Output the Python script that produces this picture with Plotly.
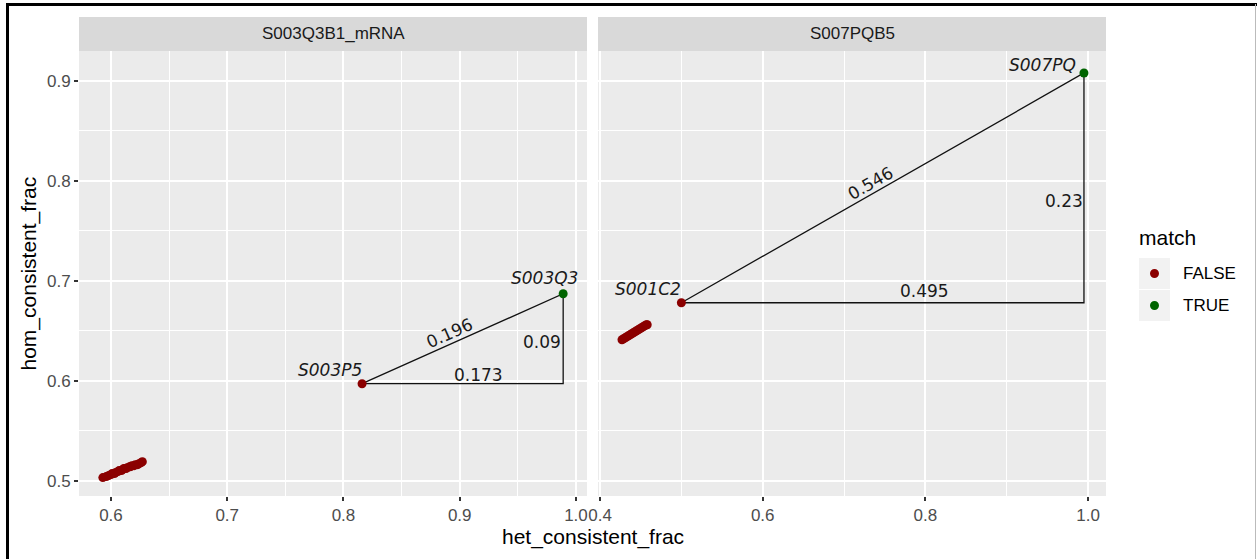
import math
import plotly.graph_objects as go

# ---------------- data ----------------
panels = ["S003Q3B1_mRNA", "S007PQB5"]

# background (non-matching) samples per panel
left_false_x = [0.593, 0.596, 0.598, 0.600, 0.601, 0.603, 0.604, 0.606, 0.607, 0.609, 0.610, 0.611,
                0.613, 0.614, 0.616, 0.617, 0.618, 0.620, 0.621, 0.623, 0.624, 0.626, 0.627]
left_false_y = [0.503, 0.504, 0.505, 0.506, 0.507, 0.507, 0.508, 0.509, 0.510, 0.510, 0.511, 0.512,
                0.512, 0.513, 0.514, 0.514, 0.515, 0.515, 0.516, 0.516, 0.517, 0.518, 0.519]
right_false_x = [0.427, 0.429, 0.431, 0.433, 0.435, 0.437, 0.439, 0.441, 0.443, 0.445, 0.447, 0.449,
                 0.451, 0.453, 0.455, 0.457, 0.458]
right_false_y = [0.641, 0.642, 0.643, 0.644, 0.645, 0.646, 0.647, 0.648, 0.649, 0.650, 0.651, 0.652,
                 0.653, 0.654, 0.655, 0.656, 0.656]

# closest non-match (FALSE) and match (TRUE) per panel
near_name = ["S003P5", "S001C2"]
near_x = [0.816, 0.500]
near_y = [0.597, 0.678]
match_name = ["S003Q3", "S007PQ"]
match_x = [0.989, 0.995]
match_y = [0.687, 0.908]

hyp_labels = ["0.196", "0.546"]
dx_labels = ["0.173", "0.495"]
dy_labels = ["0.09", "0.23"]

left_xticks = [0.6, 0.7, 0.8, 0.9, 1.0]
right_xticks = [0.4, 0.6, 0.8, 1.0]
yticks = [0.5, 0.6, 0.7, 0.8, 0.9]

# ---------------- style / layout ----------------
W, H = 1257, 559
RED = "#8B0000"
GREEN = "#006400"
PANEL_BG = "#EBEBEB"
STRIP_BG = "#D9D9D9"
TICK_FONT = dict(family="Liberation Sans, Arial, sans-serif", size=17, color="#4D4D4D")
TITLE_FONT = dict(family="Liberation Sans, Arial, sans-serif", size=21, color="#000000")
LABEL_FONT = dict(family="DejaVu Sans, sans-serif", size=17, color="#1A1A1A")

def px(x):
    return x / W

def py(y):
    return 1 - y / H

dom_x1 = (79, 587)
dom_x2 = (598, 1106)
dom_y = (51, 496)
xr1 = [0.5725, 1.0095]
xr2 = [0.3975, 1.0221]
yr = [0.4846, 0.930]

x_scale = [(dom_x1[1] - dom_x1[0]) / (xr1[1] - xr1[0]),
           (dom_x2[1] - dom_x2[0]) / (xr2[1] - xr2[0])]
y_scale = (dom_y[1] - dom_y[0]) / (yr[1] - yr[0])

fig = go.Figure()
axes = [("x", "y"), ("x2", "y2")]
false_sets = [(left_false_x, left_false_y), (right_false_x, right_false_y)]

annotations = []
for i in range(2):
    xa, ya = axes[i]
    xref = "x" if i == 0 else "x2"
    yref = "y" if i == 0 else "y2"
    # triangle segments
    fig.add_trace(go.Scatter(
        x=[near_x[i], match_x[i], match_x[i], near_x[i]],
        y=[near_y[i], match_y[i], near_y[i], near_y[i]],
        mode="lines", line=dict(color="#111111", width=1.3),
        xaxis=xa, yaxis=ya, showlegend=False, hoverinfo="skip"))
    # FALSE points
    fx, fy = false_sets[i]
    fig.add_trace(go.Scatter(
        x=fx + [near_x[i]], y=fy + [near_y[i]], mode="markers",
        marker=dict(color=RED, size=9, line=dict(width=0)),
        xaxis=xa, yaxis=ya, showlegend=False, name="FALSE"))
    # TRUE point
    fig.add_trace(go.Scatter(
        x=[match_x[i]], y=[match_y[i]], mode="markers",
        marker=dict(color=GREEN, size=9, line=dict(width=0)),
        xaxis=xa, yaxis=ya, showlegend=False, name="TRUE"))

    # sample labels
    name_shift = [[(-32, 14), (-19, 16)], [(-33, 14), (-41, 8)]][i]
    for (nm, xx, yy, sh) in [(near_name[i], near_x[i], near_y[i], name_shift[0]),
                             (match_name[i], match_x[i], match_y[i], name_shift[1])]:
        annotations.append(dict(x=xx, y=yy, xref=xref, yref=yref, text=f"<i>{nm}</i>",
                                showarrow=False, xshift=sh[0], yshift=sh[1],
                                font=LABEL_FONT, xanchor="center", yanchor="middle"))
    # distance labels
    mx = (near_x[i] + match_x[i]) / 2
    my = (near_y[i] + match_y[i]) / 2
    ang = math.degrees(math.atan2((match_y[i] - near_y[i]) * y_scale,
                                  (match_x[i] - near_x[i]) * x_scale[i]))
    hyp_shift = [(-13, 6), (-12, 5)][i]
    dx_shift = [(16, 9), (42, 12)][i]
    dy_shift = [(-21, -3), (-20, -13)][i]
    annotations.append(dict(x=mx, y=my, xref=xref, yref=yref, text=hyp_labels[i],
                            showarrow=False, textangle=-ang, xshift=hyp_shift[0], yshift=hyp_shift[1],
                            font=LABEL_FONT))
    annotations.append(dict(x=mx, y=near_y[i], xref=xref, yref=yref, text=dx_labels[i],
                            showarrow=False, xshift=dx_shift[0], yshift=dx_shift[1], font=LABEL_FONT))
    annotations.append(dict(x=match_x[i], y=my, xref=xref, yref=yref, text=dy_labels[i],
                            showarrow=False, xshift=dy_shift[0], yshift=dy_shift[1], font=LABEL_FONT))

axis_style = dict(showgrid=True, gridcolor="white", gridwidth=2, zeroline=False, showline=False,
                  ticks="outside", ticklen=4, tickwidth=1.5, tickcolor="#333333",
                  tickfont=TICK_FONT, automargin=False)

fig.update_layout(
    width=W, height=H, autosize=False,
    margin=dict(l=0, r=0, t=0, b=0, pad=0),
    paper_bgcolor="white", plot_bgcolor=PANEL_BG,
    showlegend=False,
    xaxis=dict(domain=[px(dom_x1[0]), px(dom_x1[1])], range=xr1, anchor="y",
               tickvals=left_xticks, ticktext=[f"{v:.1f}" for v in left_xticks],
               minor=dict(dtick=0.05, tick0=0.55, showgrid=True, gridcolor="white", gridwidth=1),
               **axis_style),
    xaxis2=dict(domain=[px(dom_x2[0]), px(dom_x2[1])], range=xr2, anchor="y2",
                tickvals=right_xticks, ticktext=[f"{v:.1f}" for v in right_xticks],
                minor=dict(dtick=0.1, tick0=0.5, showgrid=True, gridcolor="white", gridwidth=1),
                **axis_style),
    yaxis=dict(domain=[py(dom_y[1]), py(dom_y[0])], range=yr, anchor="x",
               tickvals=yticks, ticktext=[f"{v:.1f}" for v in yticks],
               minor=dict(dtick=0.05, tick0=0.55, showgrid=True, gridcolor="white", gridwidth=1),
               **axis_style),
    yaxis2=dict(domain=[py(dom_y[1]), py(dom_y[0])], range=yr, anchor="x2", matches="y",
                tickvals=yticks, showticklabels=False, ticks="", automargin=False,
                minor=dict(dtick=0.05, tick0=0.55, showgrid=True, gridcolor="white", gridwidth=1),
                showgrid=True, gridcolor="white", gridwidth=2, zeroline=False, showline=False),
)

shapes = []
# strips
for i, (d0, d1) in enumerate([dom_x1, dom_x2]):
    shapes.append(dict(type="rect", xref="paper", yref="paper", x0=px(d0), x1=px(d1),
                       y0=py(51), y1=py(17), fillcolor=STRIP_BG, line=dict(width=0), layer="below"))
    annotations.append(dict(x=px((d0 + d1) / 2), y=py(34), xref="paper", yref="paper",
                            text=panels[i], showarrow=False,
                            font=dict(family="Liberation Sans, Arial, sans-serif", size=17, color="#1A1A1A"),
                            xanchor="center", yanchor="middle"))

# axis titles
annotations.append(dict(x=px((dom_x1[0] + dom_x2[1]) / 2), y=py(537), xref="paper", yref="paper",
                        text="het_consistent_frac", showarrow=False, font=TITLE_FONT,
                        xanchor="center", yanchor="middle"))
annotations.append(dict(x=px(29), y=py((dom_y[0] + dom_y[1]) / 2), xref="paper", yref="paper",
                        text="hom_consistent_frac", showarrow=False, font=TITLE_FONT, textangle=-90,
                        xanchor="center", yanchor="middle"))

# legend (manual, ggplot style)
annotations.append(dict(x=px(1137), y=py(237), xref="paper", yref="paper", text="match",
                        showarrow=False, font=TITLE_FONT, xanchor="left", yanchor="middle"))
for k, (lab, col) in enumerate([("FALSE", RED), ("TRUE", GREEN)]):
    top = 258 + k * 32
    shapes.append(dict(type="rect", xref="paper", yref="paper", x0=px(1139), x1=px(1170),
                       y0=py(top + 31), y1=py(top), fillcolor="#F2F2F2", line=dict(width=0)))
    cx, cy = 1154.5, top + 15.5
    shapes.append(dict(type="circle", xref="paper", yref="paper", x0=px(cx - 4.5), x1=px(cx + 4.5),
                       y0=py(cy + 4.5), y1=py(cy - 4.5), fillcolor=col, line=dict(width=0)))
    annotations.append(dict(x=px(1181), y=py(cy), xref="paper", yref="paper", text=lab,
                            showarrow=False, font=dict(family="Liberation Sans, Arial, sans-serif",
                                                       size=17, color="#000000"),
                            xanchor="left", yanchor="middle"))

# screenshot frame
shapes.append(dict(type="line", xref="paper", yref="paper", x0=px(7.5), x1=px(7.5), y0=0, y1=py(3),
                   line=dict(color="#000000", width=3)))
shapes.append(dict(type="line", xref="paper", yref="paper", x0=px(6), x1=px(1257), y0=py(4.5), y1=py(4.5),
                   line=dict(color="#000000", width=3)))
shapes.append(dict(type="line", xref="paper", yref="paper", x0=px(1255.5), x1=px(1255.5), y0=0, y1=py(4),
                   line=dict(color="#BBBBBB", width=1)))

fig.update_layout(shapes=shapes, annotations=annotations)
fig.write_html("out.html", config={"displayModeBar": False},
               post_script="document.body.style.margin='0';document.body.style.overflow='hidden';")
